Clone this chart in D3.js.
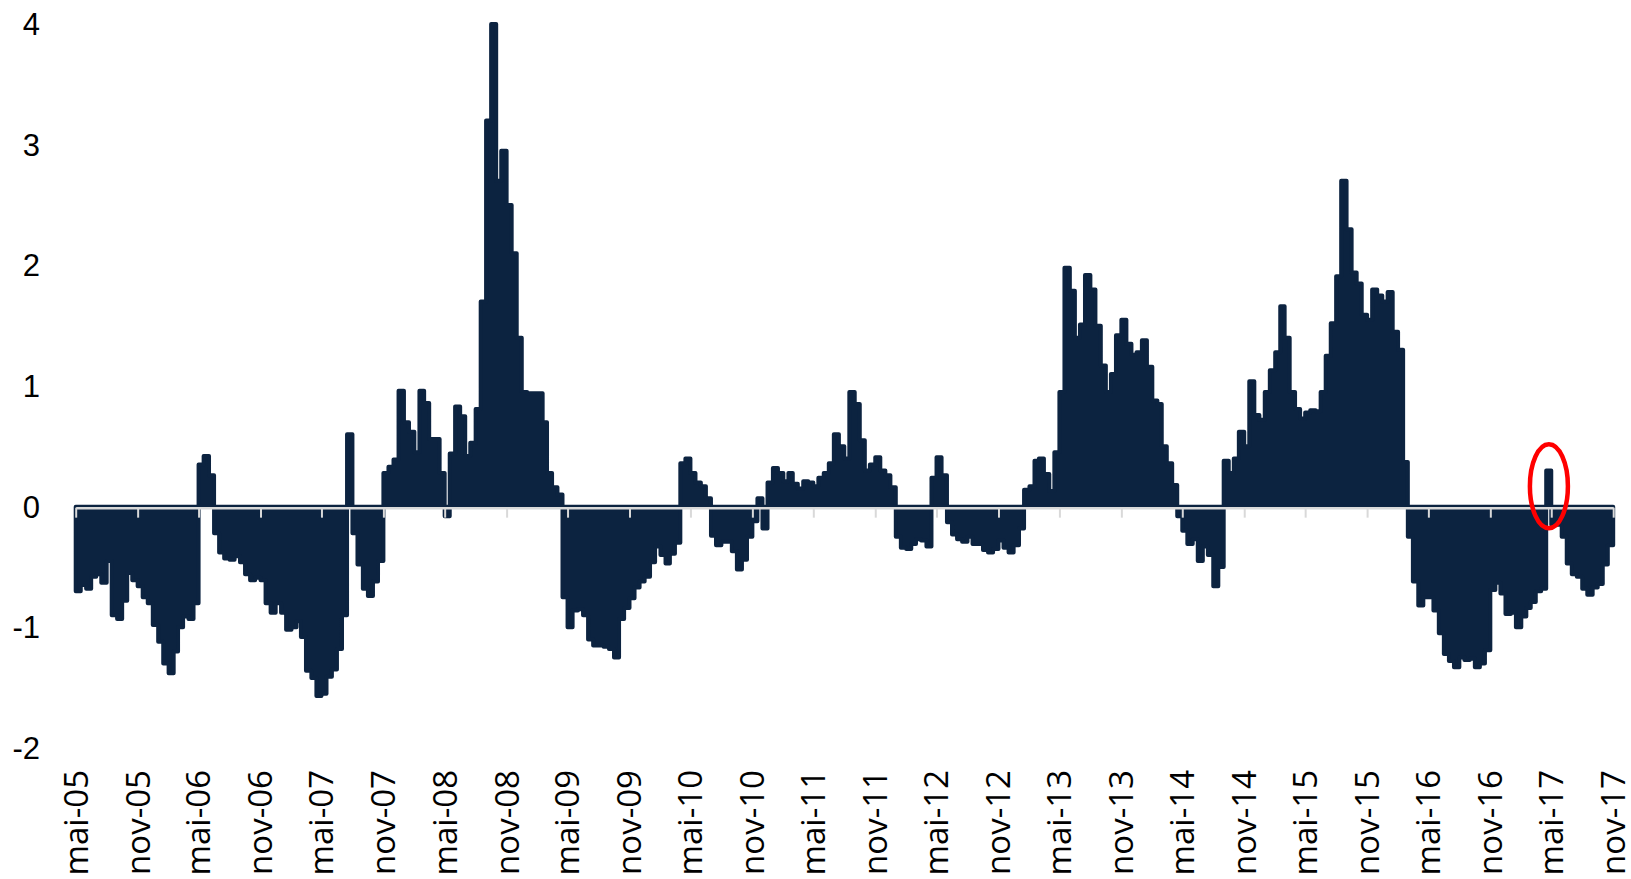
<!DOCTYPE html>
<html>
<head>
<meta charset="utf-8">
<script src="https://cdn.jsdelivr.net/npm/d3@7/dist/d3.min.js"></script>
<style>
  html, body { margin: 0; padding: 0; background: #fff; }
  svg { display: block; }
</style>
</head>
<body>
<svg id="chart" width="1631" height="879"></svg>
<script>
// Spread series, read every half month from May 2005 to Nov 2017
// ------------------------------------------------------------------
const values = [
  // mai-05 .. nov-05
  -0.70, -0.65, -0.68, -0.58, -0.56, -0.63, -0.45, -0.90, -0.93, -0.78, -0.55, -0.61,
  // nov-05 .. mai-06
  -0.66, -0.75, -0.80, -0.98, -1.12, -1.30, -1.38, -1.20, -1.00, -0.91, -0.93, -0.80,
  // mai-06 .. nov-06
   0.35,  0.42,  0.26, -0.22, -0.38, -0.43, -0.44, -0.41, -0.46, -0.56, -0.61, -0.59,
  // nov-06 .. mai-07
  -0.61, -0.80, -0.88, -0.80, -0.88, -1.02, -1.00, -0.95, -1.08, -1.36, -1.42, -1.57,
  // mai-07 .. nov-07
  -1.55, -1.41, -1.35, -1.18, -0.90,  0.60, -0.22, -0.48, -0.68, -0.74, -0.62, -0.45,
  // nov-07 .. mai-08
   0.28,  0.33,  0.39,  0.96,  0.70,  0.62,  0.45,  0.96,  0.86,  0.56,  0.56,  0.28,
  // mai-08 .. nov-08
  -0.08,  0.44,  0.83,  0.75,  0.42,  0.53,  0.81,  1.70,  3.20,  4.00,  2.70,  2.95,
  // nov-08 .. mai-09
   2.50,  2.10,  1.40,  0.95,  0.94,  0.94,  0.94,  0.70,  0.28,  0.16,  0.10, -0.75,
  // mai-09 .. nov-09
  -1.00, -0.86, -0.85, -0.90, -1.10, -1.15, -1.15, -1.16, -1.18, -1.25, -0.93, -0.84,
  // nov-09 .. mai-10
  -0.76, -0.67, -0.62, -0.58, -0.46, -0.33, -0.40, -0.47, -0.39, -0.30,  0.36,  0.40,
  // mai-10 .. nov-10
   0.28,  0.20,  0.17,  0.07, -0.24, -0.32, -0.29, -0.29, -0.37, -0.52, -0.44, -0.25,
  // nov-10 .. mai-11
  -0.12,  0.07, -0.18,  0.20,  0.32,  0.28,  0.21,  0.28,  0.19,  0.15,  0.21,  0.20,
  // mai-11 .. nov-11
   0.17,  0.24,  0.28,  0.36,  0.60,  0.50,  0.40,  0.95,  0.85,  0.55,  0.30,  0.35,
  // nov-11 .. mai-12
   0.41,  0.30,  0.26,  0.16, -0.25, -0.34, -0.35, -0.31, -0.27, -0.28, -0.33,  0.24,
  // mai-12 .. nov-12
   0.41,  0.26, -0.13, -0.23, -0.27, -0.29, -0.25, -0.31, -0.31, -0.36, -0.38, -0.35,
  // nov-12 .. mai-13
  -0.28, -0.34, -0.38, -0.32, -0.18,  0.14,  0.17,  0.38,  0.40,  0.27,  0.13,  0.45,
  // mai-13 .. nov-13
   0.95,  1.98,  1.79,  1.40,  1.51,  1.92,  1.80,  1.50,  1.17,  0.95,  1.10,  1.42,
  // nov-13 .. mai-14
   1.55,  1.35,  1.26,  1.28,  1.38,  1.16,  0.88,  0.85,  0.50,  0.36,  0.18, -0.08,
  // mai-14 .. nov-14
  -0.20, -0.31, -0.27, -0.45, -0.33, -0.40, -0.66, -0.50,  0.38,  0.28,  0.40,  0.62,
  // nov-14 .. mai-15
   0.50,  1.04,  0.76,  0.72,  0.95,  1.13,  1.28,  1.66,  1.40,  0.95,  0.81,  0.73,
  // mai-15 .. nov-15
   0.78,  0.80,  0.79,  0.95,  1.25,  1.52,  1.91,  2.70,  2.30,  1.94,  1.85,  1.59,
  // nov-15 .. mai-16
   1.55,  1.80,  1.75,  1.70,  1.78,  1.45,  1.30,  0.37, -0.25, -0.62, -0.82, -0.75,
  // mai-16 .. nov-16
  -0.75, -0.86, -1.05, -1.22, -1.28, -1.33, -1.25, -1.27, -1.26, -1.33, -1.30, -1.19,
  // nov-16 .. mai-17
  -0.69, -0.63, -0.72, -0.89, -0.88, -1.00, -0.91, -0.84, -0.79, -0.70, -0.68,  0.30,
  // mai-17 .. nov-17
  -0.15, -0.15, -0.25, -0.47, -0.56, -0.58, -0.68, -0.73, -0.67, -0.64, -0.48, -0.32,
  // nov-17
  -0.26
];

// Half-month dates (1st and 16th) starting 1 May 2005
const dates = values.map((_, i) => new Date(2005, 4 + Math.floor(i / 2), i % 2 ? 16 : 1));

const tickLabels = [
  "mai-05", "nov-05", "mai-06", "nov-06", "mai-07", "nov-07", "mai-08", "nov-08",
  "mai-09", "nov-09", "mai-10", "nov-10", "mai-11", "nov-11", "mai-12", "nov-12",
  "mai-13", "nov-13", "mai-14", "nov-14", "mai-15", "nov-15", "mai-16", "nov-16",
  "mai-17", "nov-17"
];
const tickDates = tickLabels.map((_, i) => new Date(2005, 4 + i * 6, 1));

const yTicks = [4, 3, 2, 1, 0, -1, -2];

// Highlighted point (red ellipse)
const highlight = { date: new Date(2017, 3, 24), value: 0.17 };

const navy = "#0c2340";

// Scales -----------------------------------------------------------
const x = d3.scaleTime()
  .domain([tickDates[0], tickDates[tickDates.length - 1]])
  .range([75.7, 1613.2]);

const y = d3.scaleLinear()
  .domain([-2, 4])
  .range([748, 24]);

const svg = d3.select("#chart");

// Series -----------------------------------------------------------
const data = values.map((v, i) => ({ date: dates[i], value: v }));

const area = d3.area()
  .x(d => x(d.date))
  .y0(y(0))
  .y1(d => y(d.value))
  .curve(d3.curveStepAfter);

svg.append("path")
  .datum(data)
  .attr("d", area)
  .attr("fill", navy)
  .attr("stroke", navy)
  .attr("stroke-width", 4)
  .attr("stroke-linejoin", "round");

// X axis on zero line ------------------------------------------------
const xAxisG = svg.append("g")
  .attr("transform", `translate(0,${y(0) + 1})`)
  .call(d3.axisBottom(x).tickValues(tickDates).tickSize(10).tickSizeOuter(0).tickFormat(""));

xAxisG.select(".domain").attr("stroke", "#d9d9d9").attr("stroke-width", 2.5);
xAxisG.selectAll(".tick line").attr("stroke", "#d9d9d9").attr("stroke-width", 2);

// X labels, rotated
svg.append("g")
  .selectAll("text")
  .data(tickDates)
  .join("text")
  .attr("transform", d => `translate(${x(d)},770) rotate(-90)`)
  .attr("dy", "0.36em")
  .attr("text-anchor", "end")
  .style("font-family", "'Open Sans', 'Noto Sans', sans-serif")
  .style("font-size", "33px")
  .attr("fill", "#000")
  .text((d, i) => tickLabels[i]);

// Y labels (no axis line)
svg.append("g")
  .selectAll("text")
  .data(yTicks)
  .join("text")
  .attr("x", 40)
  .attr("y", d => y(d))
  .attr("dy", "0.36em")
  .attr("text-anchor", "end")
  .style("font-family", "'Liberation Sans Narrow', 'Liberation Sans', sans-serif")
  .style("font-size", "31px")
  .attr("fill", "#000")
  .text(d => d);

// Red ellipse annotation
svg.append("ellipse")
  .attr("cx", x(highlight.date))
  .attr("cy", y(highlight.value))
  .attr("rx", 19)
  .attr("ry", 42)
  .attr("fill", "none")
  .attr("stroke", "#ff0000")
  .attr("stroke-width", 4.5);
</script>
</body>
</html>
